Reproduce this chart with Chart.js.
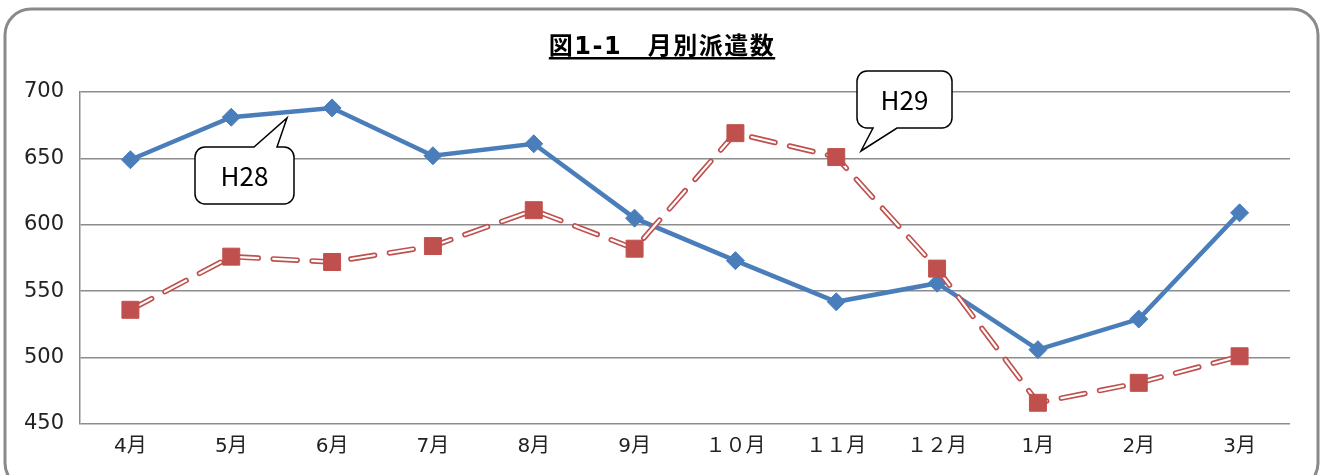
<!DOCTYPE html>
<html>
<head>
<meta charset="utf-8">
<script src="https://cdn.jsdelivr.net/npm/chart.js@4"></script>
<style>
  html, body { margin: 0; padding: 0; background: #fff; }
  #wrap { width: 1325px; height: 475px; position: relative; }
</style>
</head>
<body>
<div id="wrap"><canvas id="c" width="1325" height="475"></canvas></div>
<script>
const months = ['4月', '5月', '6月', '7月', '8月', '9月', '１０月', '１１月', '１２月', '1月', '2月', '3月'];
const h28 = [649, 681, 688, 652, 661, 605, 573, 542, 556, 506, 529, 609];
const h29 = [536, 576, 572, 584, 611, 582, 669, 651, 567, 466, 481, 501];
const yTicks = [450, 500, 550, 600, 650, 700];

const BLUE = '#4A7EBB';
const RED = '#C0504D';
const FONT = '"DejaVu Sans", "Noto Sans CJK JP", sans-serif';
const NARROW = '"Liberation Sans Narrow", "Noto Sans CJK JP", sans-serif';

function roundRect(ctx, x, y, w, h, r) {
  ctx.beginPath();
  ctx.moveTo(x + r, y);
  ctx.lineTo(x + w - r, y);
  ctx.arcTo(x + w, y, x + w, y + r, r);
  ctx.lineTo(x + w, y + h - r);
  ctx.arcTo(x + w, y + h, x + w - r, y + h, r);
  ctx.lineTo(x + r, y + h);
  ctx.arcTo(x, y + h, x, y + h - r, r);
  ctx.lineTo(x, y + r);
  ctx.arcTo(x, y, x + r, y, r);
  ctx.closePath();
}

// callout boxes: box + tail (tail base on one edge, tip elsewhere)
const callouts = [
  { text: 'H28', x: 195, y: 147, w: 99, h: 57, edge: 'top', t1: 254, t2: 277, tip: [287, 118] },
  { text: 'H29', x: 857, y: 71, w: 95, h: 57, edge: 'bottom', t1: 873, t2: 897, tip: [861, 151] }
];

const decor = {
  id: 'decor',
  beforeDraw(chart) {
    const ctx = chart.ctx;
    ctx.save();
    ctx.fillStyle = '#fff';
    ctx.fillRect(0, 0, chart.width, chart.height);
    ctx.lineWidth = 3;
    ctx.strokeStyle = '#8a8a8a';
    roundRect(ctx, 5, 9, 1313, 480, 26);
    ctx.stroke();
    // title
    ctx.fillStyle = '#000';
    ctx.font = 'bold 24px ' + FONT;
    ctx.letterSpacing = '1.5px';
    ctx.textAlign = 'center';
    ctx.textBaseline = 'alphabetic';
    const title = '図1-1　月別派遣数';
    ctx.fillText(title, 662, 54);
    const tw = ctx.measureText(title).width;
    ctx.fillRect(662 - tw / 2, 57, tw, 2.5);
    ctx.restore();
  },
  afterDraw(chart) {
    const ctx = chart.ctx;
    ctx.save();
    callouts.forEach(c => {
      const r = 10;
      ctx.beginPath();
      ctx.moveTo(c.x + r, c.y);
      if (c.edge === 'top') {
        ctx.lineTo(c.t1, c.y);
        ctx.lineTo(c.tip[0], c.tip[1]);
        ctx.lineTo(c.t2, c.y);
      }
      ctx.lineTo(c.x + c.w - r, c.y);
      ctx.arcTo(c.x + c.w, c.y, c.x + c.w, c.y + r, r);
      ctx.lineTo(c.x + c.w, c.y + c.h - r);
      ctx.arcTo(c.x + c.w, c.y + c.h, c.x + c.w - r, c.y + c.h, r);
      if (c.edge === 'bottom') {
        ctx.lineTo(c.t2, c.y + c.h);
        ctx.lineTo(c.tip[0], c.tip[1]);
        ctx.lineTo(c.t1, c.y + c.h);
      }
      ctx.lineTo(c.x + r, c.y + c.h);
      ctx.arcTo(c.x, c.y + c.h, c.x, c.y + c.h - r, r);
      ctx.lineTo(c.x, c.y + r);
      ctx.arcTo(c.x, c.y, c.x + r, c.y, r);
      ctx.closePath();
      ctx.fillStyle = '#fff';
      ctx.fill();
      ctx.lineWidth = 1.5;
      ctx.strokeStyle = '#000';
      ctx.stroke();
      ctx.fillStyle = '#000';
      ctx.font = '26px ' + NARROW;
      ctx.textAlign = 'center';
      ctx.textBaseline = 'middle';
      ctx.fillText(c.text, c.x + c.w / 2, c.y + c.h / 2 + 1);
    });
    ctx.restore();
  }
};

new Chart(document.getElementById('c').getContext('2d'), {
  type: 'line',
  data: {
    labels: months,
    datasets: [
      {
        label: 'H28',
        data: h28,
        borderColor: BLUE,
        borderWidth: 4.5,
        pointStyle: 'rectRot',
        pointRadius: 9,
        pointBackgroundColor: BLUE,
        pointBorderColor: BLUE,
        pointBorderWidth: 1,
        tension: 0,
        order: 3
      },
      {
        label: 'H29 outline',
        data: h29,
        borderColor: RED,
        borderWidth: 5.5,
        borderDash: [24, 15],
        borderCapStyle: 'round',
        pointRadius: 0,
        tension: 0,
        order: 2
      },
      {
        label: 'H29',
        data: h29,
        borderColor: '#fff',
        borderWidth: 2.2,
        borderDash: [24, 15],
        borderCapStyle: 'round',
        pointStyle: 'rect',
        pointRadius: 12,
        pointBackgroundColor: RED,
        pointBorderColor: RED,
        pointBorderWidth: 1,
        tension: 0,
        order: 1
      }
    ]
  },
  options: {
    responsive: false,
    animation: false,
    events: [],
    layout: { padding: { left: 0, right: 35, top: 92, bottom: 0 } },
    plugins: {
      legend: { display: false },
      tooltip: { enabled: false },
      title: { display: false }
    },
    scales: {
      x: {
        offset: true,
        grid: { display: false, drawTicks: false },
        border: { display: false },
        ticks: {
          color: '#222',
          font: { family: FONT, size: 20 },
          padding: 11,
          maxRotation: 0,
          autoSkip: false
        },
        afterFit: s => { s.height = 51; }
      },
      y: {
        min: 450,
        max: 700,
        afterBuildTicks: s => { s.ticks = yTicks.map(v => ({ value: v })); },
        grid: { color: '#8c8c8c', lineWidth: 1.5, drawTicks: false },
        border: { display: true, color: '#8c8c8c', width: 1.5 },
        ticks: {
          color: '#222',
          font: { family: FONT, size: 21 },
          padding: 16
        },
        afterFit: s => { s.width = 80; }
      }
    }
  },
  plugins: [decor]
});
</script>
</body>
</html>
